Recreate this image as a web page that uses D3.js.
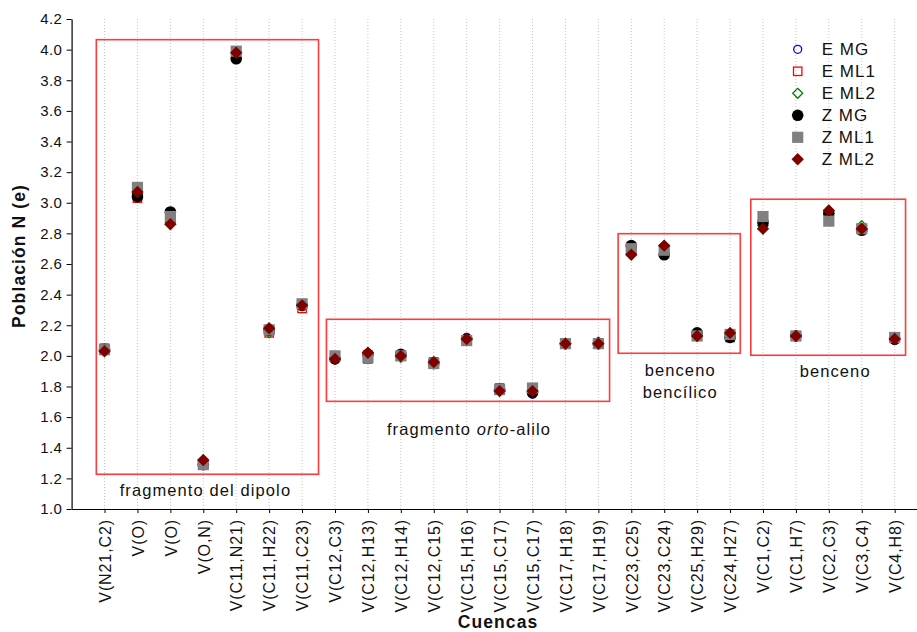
<!DOCTYPE html>
<html>
<head>
<meta charset="utf-8">
<script src="https://cdn.jsdelivr.net/npm/d3@7"></script>
<style>
  html, body { margin: 0; padding: 0; background: #fff; }
  svg { display: block; font-family: Arial, "Liberation Sans", sans-serif; }
</style>
</head>
<body>
<div id="chart"></div>
<script>
"use strict";

const categories = [
  "V(N21,C2)", "V(O)", "V(O)", "V(O,N)", "V(C11,N21)", "V(C11,H22)", "V(C11,C23)",
  "V(C12,C3)", "V(C12,H13)", "V(C12,H14)", "V(C12,C15)", "V(C15,H16)", "V(C15,C17)",
  "V(C15,C17)", "V(C17,H18)", "V(C17,H19)", "V(C23,C25)", "V(C23,C24)", "V(C25,H29)",
  "V(C24,H27)", "V(C1,C2)", "V(C1,H7)", "V(C2,C3)", "V(C3,C4)", "V(C4,H8)",
];

const eMG  = [2.05, 3.04, 2.94, 1.30, 3.95, 2.16, 2.33, 1.98, 2.01, 2.01, 1.95, 2.12, 1.78, 1.75, 2.08, 2.09, 2.72, 2.66, 2.15, 2.12, 2.87, 2.13, 2.93, 2.83, 2.10];
const eML1 = [2.05, 3.03, 2.90, 1.29, 3.99, 2.15, 2.31, 2.00, 1.98, 2.00, 1.96, 2.10, 1.79, 1.78, 2.08, 2.08, 2.71, 2.70, 2.13, 2.12, 2.89, 2.13, 2.88, 2.83, 2.12];
const eML2 = [2.04, 3.06, 2.87, 1.31, 3.98, 2.15, 2.33, 1.98, 2.02, 1.99, 1.95, 2.11, 1.77, 1.77, 2.08, 2.09, 2.67, 2.72, 2.13, 2.14, 2.85, 2.13, 2.95, 2.85, 2.11];
const zMG  = [2.04, 3.04, 2.94, 1.29, 3.94, 2.17, 2.33, 1.98, 2.01, 2.01, 1.95, 2.11, 1.78, 1.76, 2.08, 2.08, 2.72, 2.66, 2.15, 2.12, 2.87, 2.13, 2.93, 2.82, 2.11];
const zML1 = [2.04, 3.10, 2.91, 1.29, 3.99, 2.17, 2.34, 2.00, 1.99, 2.00, 1.95, 2.10, 1.78, 1.79, 2.08, 2.08, 2.70, 2.69, 2.13, 2.14, 2.91, 2.13, 2.88, 2.83, 2.12];
const zML2 = [2.03, 3.07, 2.86, 1.32, 3.98, 2.18, 2.33, 1.98, 2.02, 2.00, 1.96, 2.11, 1.77, 1.77, 2.08, 2.08, 2.66, 2.72, 2.13, 2.15, 2.83, 2.13, 2.95, 2.83, 2.11];

const yTicks = [1.0, 1.2, 1.4, 1.6, 1.8, 2.0, 2.2, 2.4, 2.6, 2.8, 3.0, 3.2, 3.4, 3.6, 3.8, 4.0, 4.2];

// fragment boxes, in category units (x) and population units (y)
const regions = [
  { x0: 0.75, x1: 7.5, y0: 1.227, y1: 4.065, lines: [["fragmento del dipolo"]] },
  { x0: 7.74, x1: 16.34, y0: 1.703, y1: 2.239, lines: [["fragmento ", ["orto", true], "-alilo"]] },
  { x0: 16.6, x1: 20.31, y0: 2.017, y1: 2.798, lines: [["benceno"], ["bencílico"]] },
  { x0: 20.63, x1: 25.33, y0: 2.004, y1: 3.023, lines: [["benceno"]] },
];
// label placement under each box: [dx, gap below box]
const regionLabelOffsets = [[-2, 21.5], [1, 34], [1, 23], [7, 22]];

const series = [
  { name: "E MG",  values: eMG,  shape: "circle",  fill: "none",    stroke: "#0000ff", size: 4.6 },
  { name: "E ML1", values: eML1, shape: "square",  fill: "none",    stroke: "#ff0000", size: 4.8 },
  { name: "E ML2", values: eML2, shape: "diamond", fill: "none",    stroke: "#008000", size: 5 },
  { name: "Z MG",  values: zMG,  shape: "circle",  fill: "#000000", stroke: "none",    size: 5.8 },
  { name: "Z ML1", values: zML1, shape: "square",  fill: "#808080", stroke: "none",    size: 5.6 },
  { name: "Z ML2", values: zML2, shape: "diamond", fill: "#800000", stroke: "none",    size: 6.2 },
];

(function renderChart() {
  const width = 917;
  const height = 632;
  const axisColor = "#000";
  const boxColor = "#ff3b3b";

  const x = d3.scaleLinear().domain([0, categories.length + 1]).range([71.6, 927.6]);
  const y = d3.scaleLinear().domain([1.0, 4.2]).range([509, 19]);

  const svg = d3.select("#chart")
    .append("svg")
    .attr("width", width)
    .attr("height", height)
    .attr("viewBox", `0 0 ${width} ${height}`);

  const idx = categories.map((_, i) => i + 1);

  // vertical dotted grid
  svg.append("g")
    .selectAll("line")
    .data(idx)
    .join("line")
    .attr("x1", (d) => x(d))
    .attr("x2", (d) => x(d))
    .attr("y1", y(4.2))
    .attr("y2", y(1.0))
    .attr("stroke", "#c4c4c4")
    .attr("stroke-width", 1)
    .attr("stroke-dasharray", "1,2");

  // fragment boxes
  svg.append("g")
    .selectAll("rect")
    .data(regions)
    .join("rect")
    .attr("x", (r) => x(r.x0))
    .attr("y", (r) => y(r.y1))
    .attr("width", (r) => x(r.x1) - x(r.x0))
    .attr("height", (r) => y(r.y0) - y(r.y1))
    .attr("fill", "none")
    .attr("stroke", boxColor)
    .attr("stroke-width", 1.6);

  const labelG = svg.append("g")
    .attr("font-size", 16.5)
    .attr("letter-spacing", 1.1)
    .attr("fill", "#111");

  regions.forEach((r, ri) => {
    const [dx, gap] = regionLabelOffsets[ri];
    const cx = (x(r.x0) + x(r.x1)) / 2 + dx;
    r.lines.forEach((parts, li) => {
      const t = labelG.append("text")
        .attr("x", cx)
        .attr("y", y(r.y0) + gap + li * 21.5)
        .attr("text-anchor", "middle");
      parts.forEach((p) => {
        const italic = Array.isArray(p);
        t.append("tspan")
          .attr("font-style", italic ? "italic" : null)
          .text(italic ? p[0] : p);
      });
    });
  });

  function drawShape(sel, s) {
    const r = s.size;
    if (s.shape === "circle") {
      sel.append("circle").attr("r", s.fill === "none" ? r - 0.6 : r);
    } else if (s.shape === "square") {
      const h = s.fill === "none" ? r - 0.6 : r;
      sel.append("rect").attr("x", -h).attr("y", -h).attr("width", 2 * h).attr("height", 2 * h);
    } else {
      sel.append("path").attr("d", `M0,${-r}L${r},0L0,${r}L${-r},0Z`);
    }
    sel.selectAll("*")
      .attr("fill", s.fill)
      .attr("stroke", s.stroke)
      .attr("stroke-width", s.fill === "none" ? 1.3 : null);
  }

  // data points
  series.forEach((s) => {
    svg.append("g")
      .selectAll("g")
      .data(s.values)
      .join("g")
      .attr("transform", (v, i) => `translate(${x(i + 1)},${y(v)})`)
      .each(function () { drawShape(d3.select(this), s); });
  });

  // axes
  const yAxis = svg.append("g")
    .attr("transform", `translate(${x(0)},0)`)
    .call(d3.axisLeft(y).tickValues(yTicks).tickFormat(d3.format(".1f")).tickSize(5).tickSizeOuter(0));
  yAxis.select(".domain").attr("stroke", axisColor).attr("stroke-width", 1.2);
  yAxis.selectAll("line").attr("stroke", axisColor);
  yAxis.selectAll("text")
    .attr("font-size", 15)
    .attr("font-family", "Arial, 'Liberation Sans', sans-serif")
    .attr("fill", "#111")
    .attr("x", -9.5)
    .attr("letter-spacing", 0.3);

  const xAxis = svg.append("g")
    .attr("transform", `translate(0,${y(1.0)})`)
    .call(d3.axisBottom(x).tickValues(idx).tickFormat((d) => categories[d - 1]).tickSize(4).tickSizeOuter(0));
  xAxis.select(".domain").attr("stroke", axisColor).attr("stroke-width", 1.2);
  xAxis.selectAll("line").attr("stroke", axisColor);
  xAxis.selectAll("text")
    .attr("font-size", 16)
    .attr("font-family", "Arial, 'Liberation Sans', sans-serif")
    .attr("fill", "#111")
    .attr("letter-spacing", 0.9)
    .attr("text-anchor", "end")
    .attr("transform", "rotate(-90)")
    .attr("x", -10)
    .attr("y", 0)
    .attr("dy", "0.36em");

  // axis titles
  svg.append("text")
    .attr("transform", `translate(25,${256}) rotate(-90)`)
    .attr("text-anchor", "middle")
    .attr("font-size", 17.5)
    .attr("font-weight", 700)
    .attr("letter-spacing", 1.1)
    .attr("fill", "#111")
    .text("Población N (e)");

  svg.append("text")
    .attr("x", 498)
    .attr("y", 628)
    .attr("text-anchor", "middle")
    .attr("font-size", 17.5)
    .attr("font-weight", 700)
    .attr("letter-spacing", 1.1)
    .attr("fill", "#111")
    .text("Cuencas");

  // legend
  const legend = svg.append("g").attr("transform", "translate(797.7,49.3)");
  const rows = legend.selectAll("g")
    .data(series)
    .join("g")
    .attr("transform", (_, i) => `translate(0,${i * 22})`);
  rows.each(function (s) {
    const g = d3.select(this).append("g");
    drawShape(g, s);
  });
  rows.append("text")
    .attr("x", 24)
    .attr("dy", "0.36em")
    .attr("font-size", 17)
    .attr("letter-spacing", 1)
    .attr("fill", "#111")
    .text((s) => s.name);
})();
</script>
</body>
</html>
